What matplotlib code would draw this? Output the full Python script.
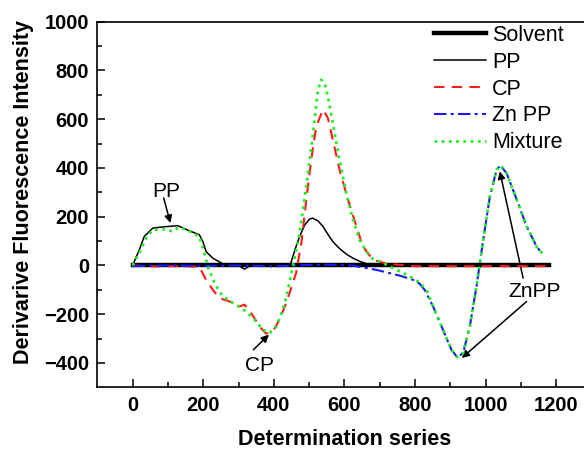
import matplotlib
matplotlib.use("Agg")
import matplotlib.pyplot as plt
from matplotlib.ticker import FixedLocator

plt.rcParams['font.family'] = ['Liberation Sans', 'DejaVu Sans']

# ---------------- data ----------------
solvent_x = [0, 200, 400, 600, 800, 1000, 1180]
solvent_y = [0, 0, 0, 0, 0, 0, 0]

pp_x = [0, 19, 33, 57, 85, 128, 161, 189, 199, 208, 227, 255, 265, 300, 305, 317, 331,
        380, 446, 463, 473, 487, 501, 510, 525, 539, 553, 567, 582, 596, 610, 624, 643,
        662, 690, 800, 1000, 1175]
pp_y = [0, 64, 119, 153, 158, 163, 142, 126, 98, 57, 30, 7, 0, 0, -5, -15, -3,
        0, 0, 78, 119, 165, 190, 194, 183, 160, 128, 98, 75, 57, 42, 30, 17,
        7, 0, 0, 0, 0]

cp_x = [0, 60, 120, 189, 208, 227, 246, 275, 303, 317, 336, 359, 378, 397, 416, 435,
        454, 463, 478, 492, 506, 520, 539, 553, 567, 586, 610, 634, 652, 681, 719,
        800, 1000, 1180]
cp_y = [0, -4, -3, -5, -59, -100, -134, -148, -168, -161, -195, -250, -280, -271, -223, -154,
        -72, -31, 92, 270, 434, 570, 639, 605, 516, 393, 270, 160, 78, 23, 7,
        -3, -3, -3]

znpp_x = [0, 100, 200, 300, 400, 500, 567, 620, 690, 757, 794, 813, 827, 851, 879, 903,
          919, 936, 955, 974, 993, 1012, 1031, 1042, 1059, 1088, 1116, 1144, 1160]
znpp_y = [-3, 0, -2, 0, -4, 2, 3, 0, -18, -42, -59, -75, -100, -168, -264, -346,
          -376, -360, -250, -86, 105, 283, 393, 410, 379, 270, 160, 78, 48]

mix_x = [0, 19, 38, 57, 85, 113, 132, 161, 189, 203, 213, 232, 255, 284, 322, 350, 369,
         388, 407, 426, 440, 454, 473, 492, 511, 525, 534, 544, 553, 567, 586, 605,
         624, 643, 662, 681, 709, 738, 776, 813, 832, 851, 879, 903, 919, 936, 955,
         974, 993, 1012, 1031, 1042, 1059, 1088, 1116, 1144, 1166]
mix_y = [0, 51, 112, 146, 149, 140, 158, 140, 119, 51, -4, -72, -127, -154, -189, -230, -264,
         -278, -250, -182, -100, -4, 133, 324, 543, 721, 762, 748, 693, 584, 434, 297,
         188, 105, 57, 26, 10, -11, -38, -70, -100, -168, -264, -346, -376, -360, -250,
         -86, 105, 283, 393, 410, 379, 270, 160, 78, 40]

series_labels = ["Solvent", "PP", "CP", "Zn PP", "Mixture"]
x_ticks = [0, 200, 400, 600, 800, 1000, 1200]
y_ticks = [-400, -200, 0, 200, 400, 600, 800, 1000]

# ---------------- figure ----------------
fig = plt.figure(figsize=(5.84, 4.49), dpi=100)
L, R, B, T = 97.3, 591.6, 387.3, 21.7
ax = fig.add_axes([L / 584, 1 - B / 449, (R - L) / 584, (B - T) / 449])

ax.plot(solvent_x, solvent_y, color='black', lw=3.2, label=series_labels[0], zorder=2)
ax.plot(pp_x, pp_y, color='black', lw=1.1, label=series_labels[1], zorder=3)
ax.plot(cp_x, cp_y, color='#ff1a1a', lw=1.5, dashes=(5, 3.5), label=series_labels[2], zorder=4)
ax.plot(znpp_x, znpp_y, color='#1a1aff', lw=1.5, dashes=(6, 2, 1.5, 2), label=series_labels[3], zorder=5)
ax.plot(mix_x, mix_y, color='#22ee22', lw=2.0, dashes=(1, 1.6), label=series_labels[4], zorder=6)

ax.set_xlim(-100, 1300)
ax.set_ylim(-500, 1000)
ax.xaxis.set_major_locator(FixedLocator(x_ticks))
ax.xaxis.set_minor_locator(FixedLocator([100, 300, 500, 700, 900, 1100]))
ax.yaxis.set_major_locator(FixedLocator(y_ticks))
ax.yaxis.set_minor_locator(FixedLocator([-300, -100, 100, 300, 500, 700, 900]))

ax.tick_params(which='both', direction='in', top=False, right=False, width=1.1)
ax.tick_params(which='major', length=6, labelsize=14.5, pad=6)
ax.tick_params(which='minor', length=3.5)
for lab in ax.get_xticklabels() + ax.get_yticklabels():
    lab.set_fontweight('bold')
for s in ax.spines.values():
    s.set_linewidth(1.2)

ax.set_xlabel("Determination series", fontsize=15.5, fontweight='bold', labelpad=10)
ax.set_ylabel("Derivarive Fluorescence Intensity", fontsize=15.5, fontweight='bold')
ax.yaxis.set_label_coords(-0.128, 0.534)

# annotations
arrow_kw = dict(arrowstyle='-|>', color='black', lw=1.1, mutation_scale=11, shrinkA=0, shrinkB=0)
ax.text(95, 302, "PP", fontsize=15, ha='center', va='center')
ax.annotate("", xy=(107, 174), xytext=(88, 277), arrowprops=arrow_kw)
ax.text(359, -410, "CP", fontsize=15, ha='center', va='center')
ax.annotate("", xy=(386, -284), xytext=(342, -346), arrowprops=arrow_kw)
ax.text(1140, -107, "ZnPP", fontsize=15, ha='center', va='center')
ax.annotate("", xy=(1040, 386), xytext=(1106, -52), arrowprops=arrow_kw)
ax.annotate("", xy=(932, -380), xytext=(1116, -148), arrowprops=arrow_kw)

leg = ax.legend(loc='upper left', bbox_to_anchor=(434 / 584, 1 - 25 / 449),
                bbox_transform=fig.transFigure, frameon=False, fontsize=15.5,
                handlelength=2.4, handletextpad=0.3, labelspacing=0.27,
                borderpad=0, borderaxespad=0)

fig.savefig("out.png", dpi=100)
